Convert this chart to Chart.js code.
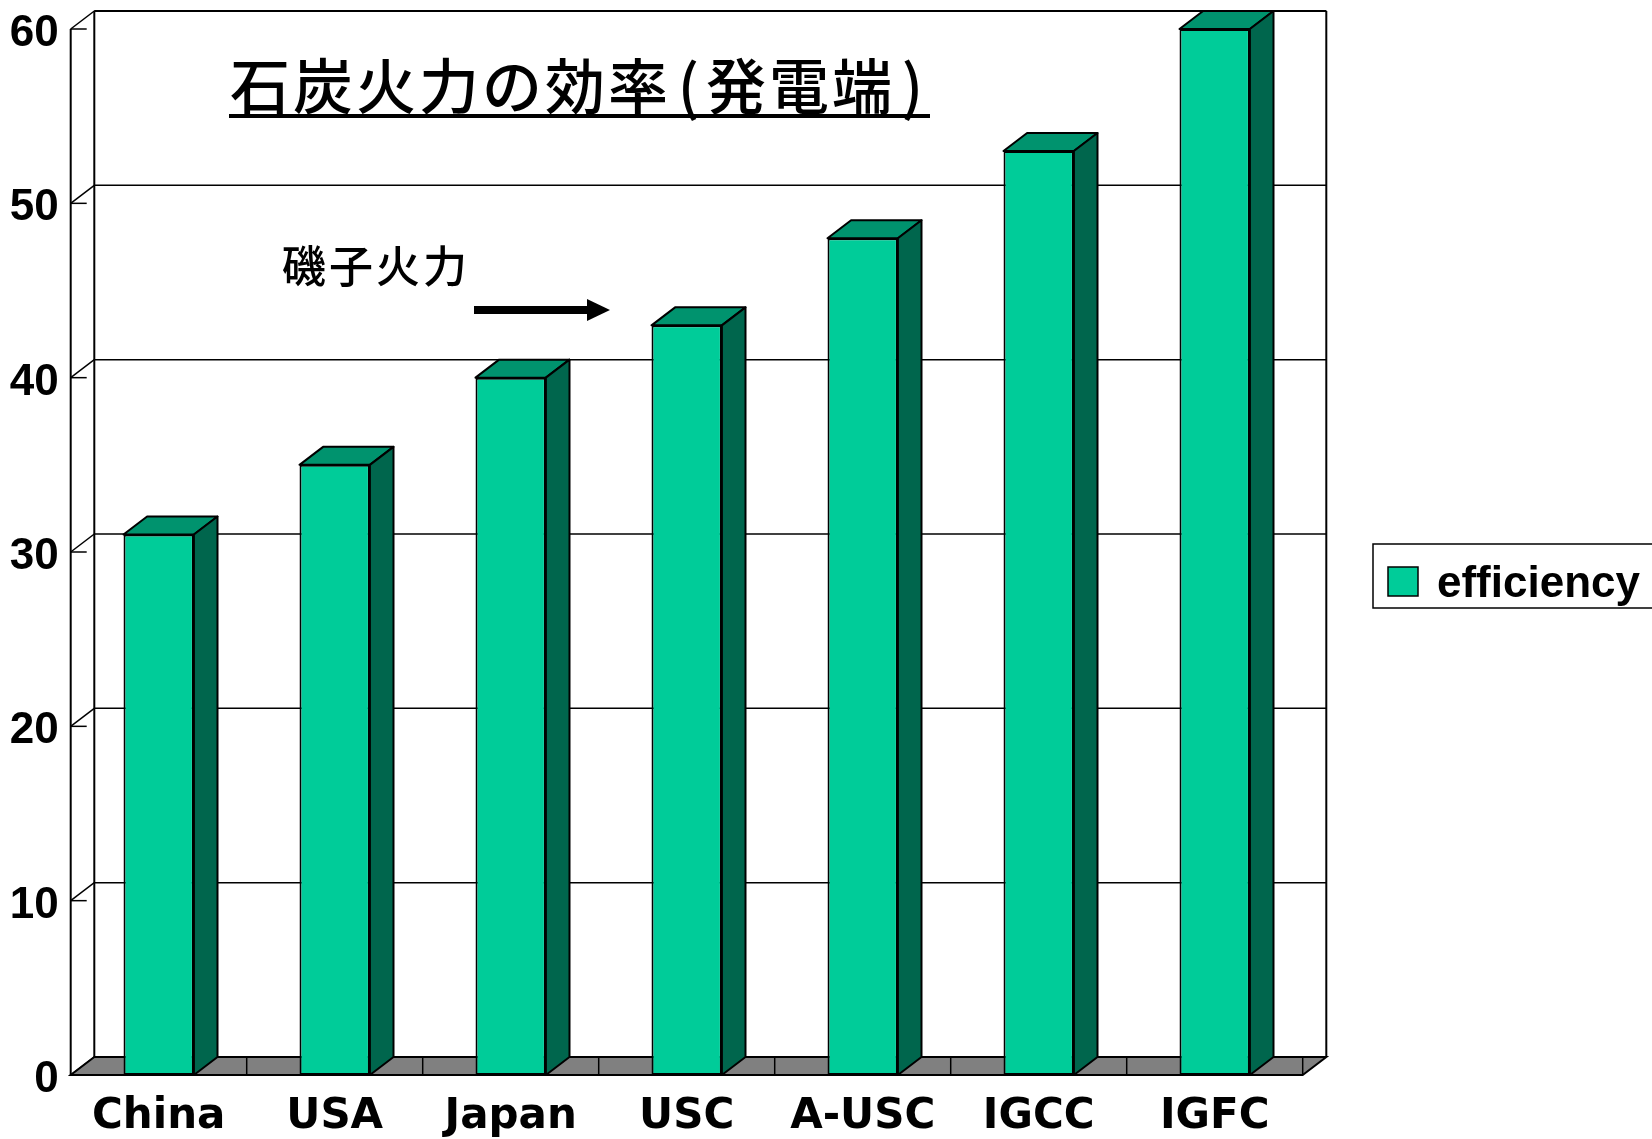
<!DOCTYPE html>
<html lang="ja">
<head>
<meta charset="utf-8">
<title>石炭火力の効率(発電端)</title>
<script src="https://cdn.jsdelivr.net/npm/chart.js@4.4.1/dist/chart.umd.min.js"></script>
<style>
  html, body { margin: 0; padding: 0; background: #fff; }
  canvas { display: block; }
</style>
</head>
<body>
<canvas id="efficiency" width="1652" height="1139"></canvas>
<script>
const categories = ['China', 'USA', 'Japan', 'USC', 'A-USC', 'IGCC', 'IGFC'];
const efficiency = [31, 35, 40, 43, 48, 53, 60];
const yTicks = [0, 10, 20, 30, 40, 50, 60];
const titleText = '石炭火力の効率(発電端)';
const noteText = '磯子火力';
const seriesName = 'efficiency';

// offset of the back wall from the front plane
const DX = 23.6, DY = -18;
const FRONT = '#00CC99', TOP = '#00936E', SIDE = '#00664D', FLOOR = '#808080';

function poly(ctx, pts, fill) {
    ctx.beginPath()
    ctx.moveTo(pts[0][0], pts[0][1])
    for (let i = 1; i < pts.length; i++) ctx.lineTo(pts[i][0], pts[i][1])
    ctx.closePath()
    if (fill) {
        ctx.fillStyle = fill
        ctx.fill()
    }
    ctx.stroke()
}

function line(ctx, x1, y1, x2, y2) {
    ctx.beginPath()
    ctx.moveTo(x1, y1)
    ctx.lineTo(x2, y2)
    ctx.stroke()
}

// walls, floor and gridlines behind the bars
const box3d = {
    id: 'box3d',
    beforeDatasetsDraw(chart) {
        const { ctx, chartArea: a, scales: { y } } = chart
        const y0 = y.getPixelForValue(0)
        const yTop = y.getPixelForValue(yTicks[yTicks.length - 1])
        ctx.save()
        ctx.strokeStyle = '#000'

        // back wall gridlines and side wall diagonals
        ctx.lineWidth = 1.5
        yTicks.forEach(v => {
            const py = y.getPixelForValue(v)
            if (v > 0) {
                line(ctx, a.left + DX, py + DY, a.right + DX, py + DY)
                line(ctx, a.left, py, a.left + 16, py)
            }
            line(ctx, a.left, py, a.left + DX, py + DY)
        })

        // floor
        ctx.lineWidth = 2
        poly(ctx, [[a.left, y0], [a.right, y0], [a.right + DX, y0 + DY], [a.left + DX, y0 + DY]], FLOOR)
        const step = a.width / categories.length
        ctx.lineWidth = 1.5
        for (let i = 1; i <= categories.length; i++) {
            const px = a.left + step * i
            line(ctx, px, y0 + DY, px, y0)
        }

        // frame
        ctx.lineWidth = 2
        line(ctx, a.left, yTop, a.left, y0)
        line(ctx, a.left + DX, yTop + DY, a.left + DX, y0 + DY)
        line(ctx, a.right + DX, yTop + DY, a.right + DX, y0 + DY)
        line(ctx, a.left + DX, yTop + DY, a.right + DX, yTop + DY)
        ctx.restore()
    },
    afterDatasetsDraw(chart) {
        const ctx = chart.ctx
        ctx.save()
        ctx.strokeStyle = '#000'
        ctx.lineWidth = 2
        ctx.lineJoin = 'round'
        chart.getDatasetMeta(0).data.forEach(bar => {
            const { x, y, base, width } = bar.getProps(['x', 'y', 'base', 'width'], true)
            const l = x - width / 2, r = x + width / 2
            poly(ctx, [[l, y], [l + DX, y + DY], [r + DX, y + DY], [r, y]], TOP)
            poly(ctx, [[r, y], [r + DX, y + DY], [r + DX, base + DY], [r, base]], SIDE)
        })
        ctx.restore()
    },
    afterDraw(chart) {
        const ctx = chart.ctx
        ctx.save()
        ctx.fillStyle = '#000'
        ctx.strokeStyle = '#000'
        ctx.textBaseline = 'alphabetic'

        // title, set char by char: kanji on a fixed pitch, narrow brackets
        ctx.font = '500 60px "Noto Sans CJK JP"'
        let tx = 230
        for (const ch of titleText) {
            const narrow = ch === '(' || ch === ')'
            const adv = narrow ? 35 : 63
            const w = ctx.measureText(ch).width
            ctx.fillText(ch, narrow ? tx + (adv - w) / 2 : tx, 109)
            tx += adv
        }
        ctx.fillRect(229, 114, tx - 229, 4)

        // note and arrow
        ctx.font = '500 44px "Noto Sans CJK JP"'
        ctx.letterSpacing = '3px'
        ctx.fillText(noteText, 282, 283)
        ctx.letterSpacing = '0px'
        ctx.fillRect(474, 306, 116, 8)
        ctx.beginPath()
        ctx.moveTo(610, 310)
        ctx.lineTo(587, 299)
        ctx.lineTo(587, 321)
        ctx.closePath()
        ctx.fill()

        // legend
        ctx.lineWidth = 1.5
        ctx.strokeRect(1373, 544, 300, 64)
        ctx.fillStyle = FRONT
        ctx.fillRect(1388, 567, 30, 29)
        ctx.strokeRect(1388, 567, 30, 29)
        ctx.fillStyle = '#000'
        ctx.font = 'bold 44px "Liberation Sans"'
        ctx.fillText(chart.data.datasets[0].label, 1437, 597)
        ctx.restore()
    }
}

new Chart(document.getElementById('efficiency'), {
    type: 'bar',
    data: {
        labels: categories,
        datasets: [{
            label: seriesName,
            data: efficiency,
            backgroundColor: FRONT,
            borderColor: '#000',
            borderWidth: 2,
            borderSkipped: false,
            barPercentage: 0.4,
            categoryPercentage: 1.0
        }]
    },
    options: {
        responsive: false,
        devicePixelRatio: 1,
        animation: false,
        layout: { padding: { top: 29, right: 349.3, bottom: 0, left: 0 } },
        plugins: {
            legend: { display: false },
            title: { display: false },
            tooltip: { enabled: false }
        },
        scales: {
            x: {
                grid: { display: false, drawTicks: false },
                border: { display: false },
                ticks: {
                    color: '#000',
                    padding: 17,
                    maxRotation: 0,
                    font: { family: 'DejaVu Sans', weight: 'bold', size: 42 }
                },
                afterFit(scale) { scale.height = 64 }
            },
            y: {
                min: 0,
                max: 60,
                grid: { display: false, drawTicks: false },
                border: { display: false },
                ticks: {
                    color: '#000',
                    stepSize: 10,
                    padding: 12,
                    // blank first line nudges the number a few px below its tick
                    callback: v => ['', String(v)],
                    font: { family: 'Liberation Sans', weight: 'bold', size: 44, lineHeight: '10px' }
                },
                afterFit(scale) {
                    scale.width = 70.7
                    scale.paddingTop = 0
                    scale.paddingBottom = 0
                }
            }
        }
    },
    plugins: [box3d]
})
</script>
</body>
</html>
